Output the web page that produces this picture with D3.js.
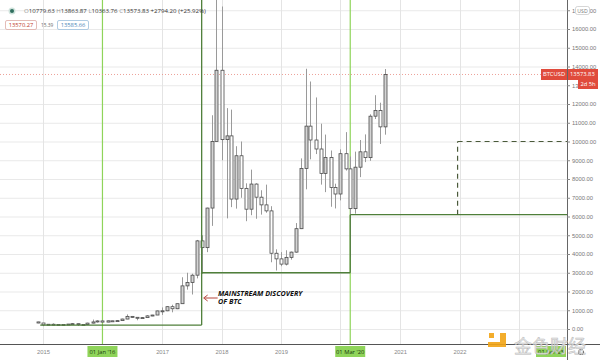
<!DOCTYPE html>
<html><head><meta charset="utf-8">
<script src="https://cdn.jsdelivr.net/npm/d3@7"></script>
<style>body{margin:0;background:#fff;}svg{display:block;font-family:"Open Sans","DejaVu Sans",sans-serif;}</style>
</head><body><svg id="c" width="600" height="360"></svg>
<script>
const months = ["2014-12","2015-01","2015-02","2015-03","2015-04","2015-05","2015-06","2015-07","2015-08","2015-09","2015-10","2015-11","2015-12",
"2016-01","2016-02","2016-03","2016-04","2016-05","2016-06","2016-07","2016-08","2016-09","2016-10","2016-11","2016-12",
"2017-01","2017-02","2017-03","2017-04","2017-05","2017-06","2017-07","2017-08","2017-09","2017-10","2017-11","2017-12",
"2018-01","2018-02","2018-03","2018-04","2018-05","2018-06","2018-07","2018-08","2018-09","2018-10","2018-11","2018-12",
"2019-01","2019-02","2019-03","2019-04","2019-05","2019-06","2019-07","2019-08","2019-09","2019-10","2019-11","2019-12",
"2020-01","2020-02","2020-03","2020-04","2020-05","2020-06","2020-07","2020-08","2020-09","2020-10"];
const open  = [378,320,217,254,244,236,230,264,284,230,236,314,377, 430,368,437,416,448,531,673,624,573,608,700,745, 964,970,1190,1080,1350,2300,2480,2870,4700,4340,6450,10000, 13800,10100,10300,6930,9240,7500,6390,7730,7030,6620,6300,4040, 3740,3460,3820,4100,5350,8560,10820,10080,9600,8300,9150,7550, 7200,9350,8540,6420,8630,9450,9140,11350,11650,10780];
const high  = [385,320,265,300,261,247,268,318,286,247,334,503,465, 462,448,439,469,550,780,695,626,628,740,755,980, 1150,1210,1295,1350,2760,3000,2950,4750,5000,6470,11400,19700, 17200,11780,11700,9750,10000,7770,8500,7770,7400,7700,6550,4250, 4100,4200,4130,5650,9100,13880,13200,12350,10950,10370,9520,7750, 9580,10500,9200,9460,10080,10380,11450,12470,12070,13863.87];
const low   = [310,152,212,236,214,228,220,253,162,225,236,300,343, 350,365,393,412,437,525,605,465,569,605,685,745, 750,950,890,1060,1350,2100,1840,2700,2950,4100,5500,10000, 9000,5900,6500,6420,7000,5750,6070,5880,6100,6200,3560,3120, 3350,3390,3700,4070,5330,7450,9050,9330,7700,7300,6520,6430, 6860,8450,3850,6150,8100,8900,8970,11200,9870,10363.76];
const close = [320,217,254,244,236,230,264,284,230,236,314,377,430, 368,437,416,448,531,673,624,573,608,700,745,964, 970,1190,1080,1350,2300,2480,2870,4700,4340,6450,10000,13800, 10100,10300,6930,9240,7500,6390,7730,7030,6620,6300,4040,3740, 3460,3820,4100,5350,8560,10820,10080,9600,8300,9150,7550,7200, 9350,8540,6420,8630,9450,9140,11350,11650,10780,13573.83];
const yTicks = [0,1000,2000,3000,4000,5000,6000,7000,8000,9000,10000,11000,12000,13000,14000,15000,16000,17000];
const yearTicks = ["2015","2016","2017","2018","2019","2020","2021","2022","2023"];
const yearLabels = ["2015","01 Jan '16","2017","2018","2019","01 Mar '20","2021","2022","01 Jan '23"];
const levelSolid = [["2014-12-15",210,"2017-09-01",210],["2017-09-01",210,"2017-09-01",18000],["2017-09-01",3000,"2020-03-01",3000],["2020-03-01",3000,"2020-03-01",6100],["2020-03-01",6100,"2023-12-01",6100]];
const levelDashed = [["2021-12-20",6100,"2021-12-20",10000],["2021-12-20",10000,"2023-12-01",10000]];
const markerDates = ["2016-01-01","2020-03-01"];
const lastPrice = 13573.83;

const svg = d3.select("#c");
const P = d3.timeParse("%Y-%m-%d");
const PM = d3.timeParse("%Y-%m");
const x = d3.scaleTime().domain([P("2015-01-01"), P("2023-01-01")]).range([43, 519]);
const y = d3.scaleLinear().domain([0, 16000]).range([329, 29]);
const axisX = 567, axisY = 344;

svg.append("defs").append("clipPath").attr("id","clip").append("rect").attr("x",0).attr("y",0).attr("width",axisX).attr("height",axisY);
const g = svg.append("g").attr("clip-path","url(#clip)");

// grid
g.selectAll(".hg").data(yTicks).join("line").attr("x1",0).attr("x2",axisX).attr("y1",d=>y(d)+0.5).attr("y2",d=>y(d)+0.5).attr("stroke","#e9e9e9");
g.selectAll(".vg").data(yearTicks).join("line").attr("x1",d=>Math.round(x(P(d+"-01-01")))+0.5).attr("x2",d=>Math.round(x(P(d+"-01-01")))+0.5).attr("y1",0).attr("y2",axisY).attr("stroke","#e4e4e4");

// marker lines
g.selectAll(".mk").data(markerDates).join("line").attr("x1",d=>x(P(d))).attr("x2",d=>x(P(d))).attr("y1",0).attr("y2",axisY).attr("stroke","#8fd45a").attr("stroke-width",1.2);

// price line
g.append("line").attr("x1",0).attr("x2",axisX).attr("y1",y(lastPrice)).attr("y2",y(lastPrice)).attr("stroke","#e88a80").attr("stroke-dasharray","1,2").attr("stroke-width",0.8);

// candles
const data = months.map((m,i)=>({d:PM(m),o:open[i],h:high[i],l:low[i],c:close[i]}));
const cg = g.append("g");
cg.selectAll(".wk").data(data).join("line").attr("x1",d=>Math.round(x(d.d))+0.5).attr("x2",d=>Math.round(x(d.d))+0.5).attr("y1",d=>y(d.h)).attr("y2",d=>y(d.l)).attr("stroke","#9a9a9a").attr("stroke-width",1);
cg.selectAll(".bd").data(data).join("rect").attr("x",d=>Math.round(x(d.d))-1).attr("width",3)
 .attr("y",d=>y(Math.max(d.o,d.c))).attr("height",d=>Math.max(1,Math.abs(y(d.o)-y(d.c))))
 .attr("fill",d=>d.c>=d.o?"#d4d4d4":"#ffffff").attr("stroke","#4a4a4a").attr("stroke-width",0.8);

// level lines
g.selectAll(".ls").data(levelSolid).join("line").attr("x1",d=>x(P(d[0]))).attr("y1",d=>y(d[1])).attr("x2",d=>x(P(d[2]))).attr("y2",d=>y(d[3])).attr("stroke","#4f7f3a").attr("stroke-width",1.3);
g.selectAll(".ld").data(levelDashed).join("line").attr("x1",d=>x(P(d[0]))).attr("y1",d=>y(d[1])).attr("x2",d=>x(P(d[2]))).attr("y2",d=>y(d[3])).attr("stroke","#4a5a3a").attr("stroke-width",1.2).attr("stroke-dasharray","5,4");

// annotation
const ax = x(P("2017-09-01"))+1, ay = 298;
svg.append("line").attr("x1",ax+2).attr("x2",ax+15).attr("y1",ay).attr("y2",ay).attr("stroke","#b5453a").attr("stroke-width",1);
svg.append("path").attr("d",`M${ax+5},${ay-3} L${ax+1},${ay} L${ax+5},${ay+3}`).attr("fill","none").attr("stroke","#b5453a").attr("stroke-width",1);
svg.append("text").attr("x",218).attr("y",296).text("MAINSTREAM DISCOVERY").attr("font-size",7.2).attr("font-weight","bold").attr("font-style","italic").attr("fill","#111");
svg.append("text").attr("x",218).attr("y",304).text("OF BTC").attr("font-size",7.2).attr("font-weight","bold").attr("font-style","italic").attr("fill","#111");

// axes
svg.append("line").attr("x1",axisX+0.5).attr("x2",axisX+0.5).attr("y1",0).attr("y2",360).attr("stroke","#666");
svg.append("line").attr("x1",0).attr("x2",600).attr("y1",axisY+0.5).attr("y2",axisY+0.5).attr("stroke","#555");
const yAxis = d3.axisRight(y).tickValues(yTicks).tickSize(3).tickFormat(d=>d3.format(".2f")(d));
const ya = svg.append("g").attr("transform",`translate(${axisX},0)`).call(yAxis);
ya.select(".domain").remove();
ya.selectAll("line").attr("stroke","#888");
ya.selectAll("text").attr("font-size",5.8).attr("fill","#777").attr("x",5);

const xa = svg.append("g").attr("transform",`translate(0,${axisY})`)
 .call(d3.axisBottom(x).tickValues(yearTicks.map(d=>P(d+"-01-01"))).tickSize(0).tickFormat((d,i)=>yearLabels[i]));
xa.select(".domain").remove();
xa.selectAll("text").attr("font-size",5.8).attr("fill","#888").attr("dy","1.2em");
// green date boxes
[1,5,8].forEach(i=>{
  const dx = i===5 ? x(P("2020-03-01")) : x(P(yearTicks[i]+"-01-01"));
  const cx = i===8 ? 551 : dx;
  svg.append("rect").attr("x",cx-15).attr("y",346).attr("width",30).attr("height",11).attr("fill","#8fd45a");
  svg.append("text").attr("x",cx).attr("y",354).attr("text-anchor","middle").attr("font-size",5.8).attr("fill","#1a3a10").text(yearLabels[i]);
});
xa.selectAll(".tick").filter((d,i)=>i===1||i===5||i===8).remove();

// right price labels
svg.append("rect").attr("x",541).attr("y",y(lastPrice)-5.5).attr("width",26).attr("height",11).attr("fill","#e04b3c");
svg.append("text").attr("x",554).attr("y",y(lastPrice)+2).attr("text-anchor","middle").attr("font-size",5.8).attr("fill","#fff").text("BTCUSD");
svg.append("rect").attr("x",568).attr("y",y(lastPrice)-5.5).attr("width",30).attr("height",11).attr("fill","#e04b3c");
svg.append("text").attr("x",570).attr("y",y(lastPrice)+2).attr("font-size",5.8).attr("fill","#fff").text(d3.format(".2f")(lastPrice));
svg.append("rect").attr("x",578).attr("y",y(lastPrice)+5.5).attr("width",20).attr("height",9).attr("fill","#e04b3c");
svg.append("text").attr("x",588).attr("y",y(lastPrice)+12).attr("text-anchor","middle").attr("font-size",5.8).attr("fill","#fff").text("2d 5h");
// USD box
svg.append("rect").attr("x",575.5).attr("y",6.5).attr("width",14).attr("height",8).attr("rx",2).attr("fill","#fff").attr("stroke","#bbb").attr("stroke-width",0.6);
svg.append("text").attr("x",582.5).attr("y",12.5).attr("text-anchor","middle").attr("font-size",5.2).attr("fill","#777").text("USD");

// header
svg.append("circle").attr("cx",12).attr("cy",11).attr("r",3.5).attr("fill","#cfe3dc");
svg.append("circle").attr("cx",12).attr("cy",11).attr("r",2).attr("fill","#2f6e5e");
const hdr = svg.append("text").attr("x",24).attr("y",13).attr("font-size",6.1).attr("fill","#333");
[["O","10779.63"],["H","13863.87"],["L","10363.76"],["C","13573.83"]].forEach(p=>{
  hdr.append("tspan").attr("fill","#999").text(p[0]);
  hdr.append("tspan").text(p[1]+" ");
});
hdr.append("tspan").text("+2794.20 (+25.92%)");
svg.append("rect").attr("x",5.5).attr("y",20.5).attr("width",31).attr("height",9).attr("rx",1.5).attr("fill","#fff").attr("stroke","#d9a09a").attr("stroke-width",0.7);
svg.append("text").attr("x",21).attr("y",27).attr("text-anchor","middle").attr("font-size",5.8).attr("fill","#c0392b").text("13570.27");
svg.append("text").attr("x",41).attr("y",27).attr("font-size",4.8).attr("fill","#666").text("15.39");
svg.append("rect").attr("x",57.5).attr("y",20.5).attr("width",31).attr("height",9).attr("rx",1.5).attr("fill","#fff").attr("stroke","#8fb8d8").attr("stroke-width",0.7);
svg.append("text").attr("x",73).attr("y",27).attr("text-anchor","middle").attr("font-size",5.8).attr("fill","#4a86b8").text("13585.66");

// watermark
const wm = svg.append("g").attr("opacity",0.9);
wm.append("rect").attr("x",489).attr("y",333).attr("width",5).attr("height",5).attr("fill","#f2a516");
wm.append("path").attr("d","M500,333 h6 v14 h-18 v-5 h12 z").attr("fill","#f2a516");
wm.append("text").attr("x",514).attr("y",353).attr("font-size",18).attr("font-family","Noto Sans CJK SC").attr("fill","#e6e6e6").attr("stroke","#b5b5b5").attr("stroke-width",0.5).text("金色财经");
// gear
svg.append("circle").attr("cx",581).attr("cy",352).attr("r",2.5).attr("fill","none").attr("stroke","#777").attr("stroke-width",1.2).attr("stroke-dasharray","1.2,0.8");
</script></body></html>
